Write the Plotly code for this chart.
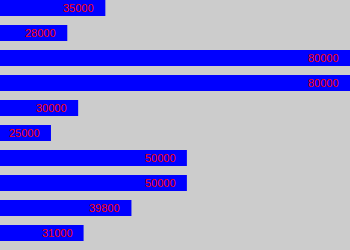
import plotly.graph_objects as go

values = [35000, 28000, 80000, 80000, 30000, 25000, 50000, 50000, 39800, 31000]
labels = [str(v) for v in values]
positions = list(range(len(values)))

fig = go.Figure()
fig.add_trace(go.Bar(
    x=values, y=positions, orientation="h",
    width=0.64, marker=dict(color="#0000FF", line=dict(width=0)),
    hoverinfo="skip",
))

for v, p, t in zip(values, positions, labels):
    fig.add_annotation(
        x=v, y=p, xref="x", yref="y", text=t, showarrow=False,
        xanchor="right", yanchor="middle", xshift=-9, yshift=0.5,
        font=dict(family="Liberation Sans, Arial, sans-serif", size=11, color="#FF0000"),
    )

fig.update_layout(
    width=350, height=250,
    margin=dict(l=0, r=0, t=0, b=0),
    paper_bgcolor="#CCCCCC", plot_bgcolor="#CCCCCC",
    showlegend=False,
    xaxis=dict(range=[15625, 80000], visible=False, fixedrange=True),
    yaxis=dict(range=[9.68, -0.32], visible=False, fixedrange=True),
)

fig.write_html("out.html", config={"displayModeBar": False})
